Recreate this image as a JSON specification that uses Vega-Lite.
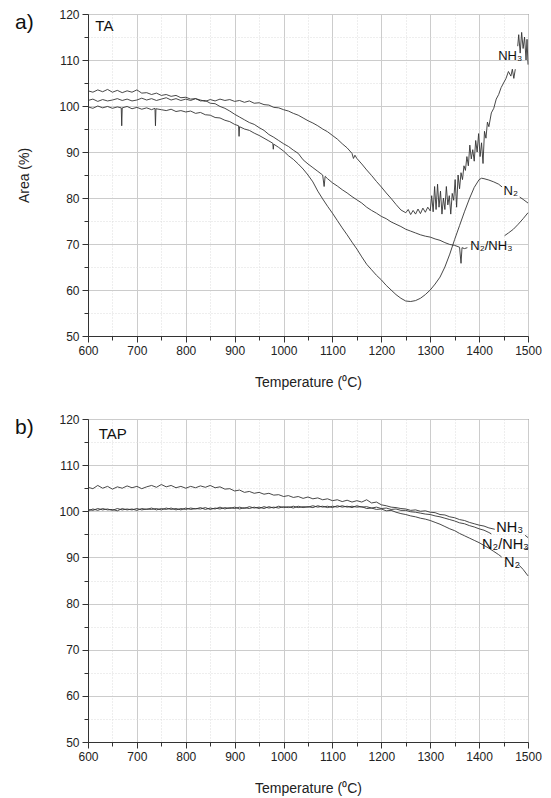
{
"$schema": "https://vega.github.io/schema/vega-lite/v6.json",
"autosize": {"type": "pad"},
"padding": {"left": 14, "top": 7, "right": 5, "bottom": 5},
"bounds": "flush",
"spacing": 83,
"config": {
  "font": "Liberation Sans",
  "view": {"stroke": "#444444", "strokeWidth": 1},
  "axis": {"labelFont": "Liberation Sans", "titleFont": "Liberation Sans", "labelFontSize": 12, "titleFontSize": 14, "titleFontWeight": "normal", "labelColor": "#222222", "titleColor": "#222222", "domainColor": "#333333", "tickColor": "#333333"},
  "title": {"font": "Liberation Sans", "fontWeight": "normal", "color": "#111111"}
},
"datasets": {
"a": [
{"s":"NH3","T":600,"V":101.2},{"s":"NH3","T":610,"V":101.5},{"s":"NH3","T":620,"V":101.0},{"s":"NH3","T":630,"V":101.4},{"s":"NH3","T":640,"V":101.1},{"s":"NH3","T":650,"V":101.3},{"s":"NH3","T":660,"V":101.6},{"s":"NH3","T":670,"V":101.2},{"s":"NH3","T":680,"V":101.5},{"s":"NH3","T":690,"V":101.1},{"s":"NH3","T":700,"V":101.3},{"s":"NH3","T":710,"V":101.7},{"s":"NH3","T":720,"V":101.3},{"s":"NH3","T":730,"V":101.6},{"s":"NH3","T":740,"V":101.2},{"s":"NH3","T":750,"V":101.5},{"s":"NH3","T":760,"V":101.8},{"s":"NH3","T":770,"V":101.3},{"s":"NH3","T":780,"V":101.6},{"s":"NH3","T":790,"V":101.2},{"s":"NH3","T":800,"V":101.5},{"s":"NH3","T":810,"V":101.2},{"s":"NH3","T":820,"V":101.6},{"s":"NH3","T":830,"V":101.3},{"s":"NH3","T":840,"V":101.0},{"s":"NH3","T":850,"V":101.4},{"s":"NH3","T":860,"V":101.1},{"s":"NH3","T":870,"V":101.5},{"s":"NH3","T":880,"V":101.2},{"s":"NH3","T":890,"V":101.4},{"s":"NH3","T":900,"V":101.0},{"s":"NH3","T":910,"V":101.2},{"s":"NH3","T":920,"V":100.8},{"s":"NH3","T":930,"V":101.1},{"s":"NH3","T":940,"V":100.6},{"s":"NH3","T":950,"V":100.7},{"s":"NH3","T":960,"V":100.3},{"s":"NH3","T":970,"V":100.2},{"s":"NH3","T":980,"V":99.7},{"s":"NH3","T":990,"V":99.6},{"s":"NH3","T":1000,"V":99.2},{"s":"NH3","T":1010,"V":98.9},{"s":"NH3","T":1020,"V":98.4},{"s":"NH3","T":1030,"V":98.0},{"s":"NH3","T":1040,"V":97.4},{"s":"NH3","T":1050,"V":96.8},{"s":"NH3","T":1060,"V":96.3},{"s":"NH3","T":1070,"V":95.7},{"s":"NH3","T":1080,"V":95.0},{"s":"NH3","T":1090,"V":94.4},{"s":"NH3","T":1100,"V":93.6},{"s":"NH3","T":1110,"V":92.8},{"s":"NH3","T":1120,"V":91.8},{"s":"NH3","T":1130,"V":90.9},{"s":"NH3","T":1140,"V":89.7},{"s":"NH3","T":1143,"V":88.6},{"s":"NH3","T":1146,"V":89.3},{"s":"NH3","T":1150,"V":88.6},{"s":"NH3","T":1160,"V":87.4},{"s":"NH3","T":1170,"V":86.1},{"s":"NH3","T":1180,"V":84.9},{"s":"NH3","T":1190,"V":83.6},{"s":"NH3","T":1200,"V":82.4},{"s":"NH3","T":1210,"V":81.1},{"s":"NH3","T":1220,"V":79.9},{"s":"NH3","T":1230,"V":78.6},{"s":"NH3","T":1240,"V":77.4},{"s":"NH3","T":1250,"V":76.8},{"s":"NH3","T":1255,"V":77.5},{"s":"NH3","T":1260,"V":76.4},{"s":"NH3","T":1265,"V":77.3},{"s":"NH3","T":1270,"V":76.5},{"s":"NH3","T":1275,"V":77.6},{"s":"NH3","T":1280,"V":76.6},{"s":"NH3","T":1285,"V":77.8},{"s":"NH3","T":1290,"V":76.9},{"s":"NH3","T":1295,"V":78.0},{"s":"NH3","T":1300,"V":77.2},{"s":"NH3","T":1303,"V":80.5},{"s":"NH3","T":1306,"V":77.0},{"s":"NH3","T":1309,"V":82.5},{"s":"NH3","T":1312,"V":77.5},{"s":"NH3","T":1315,"V":83.0},{"s":"NH3","T":1318,"V":78.0},{"s":"NH3","T":1321,"V":81.5},{"s":"NH3","T":1324,"V":76.5},{"s":"NH3","T":1327,"V":80.0},{"s":"NH3","T":1330,"V":77.5},{"s":"NH3","T":1333,"V":82.5},{"s":"NH3","T":1336,"V":78.5},{"s":"NH3","T":1339,"V":80.5},{"s":"NH3","T":1342,"V":76.5},{"s":"NH3","T":1345,"V":81.0},{"s":"NH3","T":1348,"V":79.5},{"s":"NH3","T":1351,"V":84.0},{"s":"NH3","T":1354,"V":78.0},{"s":"NH3","T":1357,"V":85.0},{"s":"NH3","T":1360,"V":82.0},{"s":"NH3","T":1363,"V":85.5},{"s":"NH3","T":1366,"V":84.0},{"s":"NH3","T":1369,"V":87.0},{"s":"NH3","T":1372,"V":86.0},{"s":"NH3","T":1375,"V":89.0},{"s":"NH3","T":1378,"V":87.0},{"s":"NH3","T":1381,"V":91.5},{"s":"NH3","T":1384,"V":88.5},{"s":"NH3","T":1387,"V":90.5},{"s":"NH3","T":1390,"V":88.0},{"s":"NH3","T":1393,"V":92.5},{"s":"NH3","T":1396,"V":90.0},{"s":"NH3","T":1399,"V":94.0},{"s":"NH3","T":1402,"V":89.0},{"s":"NH3","T":1405,"V":92.0},{"s":"NH3","T":1408,"V":87.5},{"s":"NH3","T":1411,"V":94.5},{"s":"NH3","T":1414,"V":93.0},{"s":"NH3","T":1417,"V":96.5},{"s":"NH3","T":1420,"V":95.5},{"s":"NH3","T":1425,"V":98.5},{"s":"NH3","T":1430,"V":99.5},{"s":"NH3","T":1435,"V":101.5},{"s":"NH3","T":1440,"V":102.5},{"s":"NH3","T":1445,"V":104.0},{"s":"NH3","T":1450,"V":105.0},{"s":"NH3","T":1455,"V":106.0},{"s":"NH3","T":1460,"V":107.5},{"s":"NH3","T":1465,"V":106.5},{"s":"NH3","T":1468,"V":108.0},{"s":"NH3","T":1471,"V":106.0},{"s":"NH3","T":1474,"V":108.0},
{"s":"NH3-2","T":1479,"V":113.0},{"s":"NH3-2","T":1481,"V":115.5},{"s":"NH3-2","T":1484,"V":111.5},{"s":"NH3-2","T":1487,"V":116.0},{"s":"NH3-2","T":1490,"V":112.5},{"s":"NH3-2","T":1493,"V":115.0},{"s":"NH3-2","T":1496,"V":110.0},{"s":"NH3-2","T":1498,"V":114.5},{"s":"NH3-2","T":1500,"V":109.0},
{"s":"N2NH3","T":600,"V":103.3},{"s":"N2NH3","T":610,"V":103.0},{"s":"N2NH3","T":620,"V":103.5},{"s":"N2NH3","T":630,"V":103.1},{"s":"N2NH3","T":640,"V":103.6},{"s":"N2NH3","T":650,"V":103.0},{"s":"N2NH3","T":660,"V":103.4},{"s":"N2NH3","T":670,"V":102.9},{"s":"N2NH3","T":680,"V":103.3},{"s":"N2NH3","T":690,"V":103.0},{"s":"N2NH3","T":700,"V":103.5},{"s":"N2NH3","T":710,"V":102.8},{"s":"N2NH3","T":720,"V":102.9},{"s":"N2NH3","T":730,"V":102.5},{"s":"N2NH3","T":740,"V":102.8},{"s":"N2NH3","T":750,"V":102.3},{"s":"N2NH3","T":760,"V":102.5},{"s":"N2NH3","T":770,"V":102.1},{"s":"N2NH3","T":780,"V":102.3},{"s":"N2NH3","T":790,"V":101.8},{"s":"N2NH3","T":800,"V":101.9},{"s":"N2NH3","T":810,"V":101.5},{"s":"N2NH3","T":820,"V":101.6},{"s":"N2NH3","T":830,"V":101.1},{"s":"N2NH3","T":840,"V":101.2},{"s":"N2NH3","T":850,"V":100.6},{"s":"N2NH3","T":860,"V":100.5},{"s":"N2NH3","T":870,"V":99.9},{"s":"N2NH3","T":880,"V":99.5},{"s":"N2NH3","T":890,"V":98.9},{"s":"N2NH3","T":900,"V":98.2},{"s":"N2NH3","T":910,"V":97.6},{"s":"N2NH3","T":920,"V":97.0},{"s":"N2NH3","T":930,"V":96.4},{"s":"N2NH3","T":940,"V":96.0},{"s":"N2NH3","T":950,"V":95.3},{"s":"N2NH3","T":960,"V":94.7},{"s":"N2NH3","T":970,"V":93.8},{"s":"N2NH3","T":980,"V":93.2},{"s":"N2NH3","T":990,"V":92.5},{"s":"N2NH3","T":1000,"V":91.8},{"s":"N2NH3","T":1010,"V":91.2},{"s":"N2NH3","T":1020,"V":90.4},{"s":"N2NH3","T":1030,"V":89.7},{"s":"N2NH3","T":1040,"V":88.3},{"s":"N2NH3","T":1050,"V":87.4},{"s":"N2NH3","T":1060,"V":86.6},{"s":"N2NH3","T":1070,"V":85.8},{"s":"N2NH3","T":1080,"V":85.0},{"s":"N2NH3","T":1083,"V":82.5},{"s":"N2NH3","T":1085,"V":84.7},{"s":"N2NH3","T":1090,"V":84.2},{"s":"N2NH3","T":1100,"V":83.3},{"s":"N2NH3","T":1110,"V":82.6},{"s":"N2NH3","T":1120,"V":81.8},{"s":"N2NH3","T":1130,"V":81.1},{"s":"N2NH3","T":1140,"V":80.3},{"s":"N2NH3","T":1150,"V":79.6},{"s":"N2NH3","T":1160,"V":78.9},{"s":"N2NH3","T":1170,"V":78.0},{"s":"N2NH3","T":1180,"V":77.3},{"s":"N2NH3","T":1190,"V":76.7},{"s":"N2NH3","T":1200,"V":76.0},{"s":"N2NH3","T":1210,"V":75.5},{"s":"N2NH3","T":1220,"V":74.8},{"s":"N2NH3","T":1230,"V":74.3},{"s":"N2NH3","T":1240,"V":73.8},{"s":"N2NH3","T":1250,"V":73.2},{"s":"N2NH3","T":1260,"V":72.8},{"s":"N2NH3","T":1270,"V":72.4},{"s":"N2NH3","T":1280,"V":72.0},{"s":"N2NH3","T":1290,"V":71.7},{"s":"N2NH3","T":1300,"V":71.5},{"s":"N2NH3","T":1310,"V":71.1},{"s":"N2NH3","T":1320,"V":70.8},{"s":"N2NH3","T":1330,"V":70.3},{"s":"N2NH3","T":1340,"V":69.9},{"s":"N2NH3","T":1350,"V":69.7},{"s":"N2NH3","T":1360,"V":69.3},{"s":"N2NH3","T":1363,"V":65.8},{"s":"N2NH3","T":1365,"V":69.2},{"s":"N2NH3","T":1370,"V":69.0},{"s":"N2NH3","T":1376,"V":69.2},
{"s":"N2NH3-2","T":1452,"V":71.8},{"s":"N2NH3-2","T":1460,"V":72.4},{"s":"N2NH3-2","T":1470,"V":73.2},{"s":"N2NH3-2","T":1480,"V":74.3},{"s":"N2NH3-2","T":1490,"V":75.5},{"s":"N2NH3-2","T":1500,"V":76.8},
{"s":"N2","T":600,"V":99.8},{"s":"N2","T":610,"V":99.5},{"s":"N2","T":620,"V":100.0},{"s":"N2","T":630,"V":99.6},{"s":"N2","T":640,"V":99.9},{"s":"N2","T":650,"V":99.5},{"s":"N2","T":660,"V":99.8},{"s":"N2","T":668,"V":99.6},{"s":"N2","T":669,"V":95.7},{"s":"N2","T":670,"V":99.6},{"s":"N2","T":680,"V":99.9},{"s":"N2","T":690,"V":99.4},{"s":"N2","T":700,"V":99.7},{"s":"N2","T":710,"V":99.3},{"s":"N2","T":720,"V":99.6},{"s":"N2","T":730,"V":99.2},{"s":"N2","T":737,"V":99.5},{"s":"N2","T":738,"V":95.7},{"s":"N2","T":739,"V":99.4},{"s":"N2","T":750,"V":99.2},{"s":"N2","T":760,"V":99.0},{"s":"N2","T":770,"V":99.3},{"s":"N2","T":780,"V":98.8},{"s":"N2","T":790,"V":99.0},{"s":"N2","T":800,"V":98.7},{"s":"N2","T":810,"V":98.9},{"s":"N2","T":820,"V":98.4},{"s":"N2","T":830,"V":98.6},{"s":"N2","T":840,"V":98.1},{"s":"N2","T":850,"V":98.0},{"s":"N2","T":860,"V":97.5},{"s":"N2","T":870,"V":97.4},{"s":"N2","T":880,"V":96.9},{"s":"N2","T":890,"V":96.6},{"s":"N2","T":900,"V":96.0},{"s":"N2","T":908,"V":95.7},{"s":"N2","T":909,"V":93.4},{"s":"N2","T":910,"V":95.5},{"s":"N2","T":920,"V":95.0},{"s":"N2","T":930,"V":94.7},{"s":"N2","T":940,"V":94.1},{"s":"N2","T":950,"V":93.6},{"s":"N2","T":960,"V":93.0},{"s":"N2","T":970,"V":92.4},{"s":"N2","T":978,"V":91.9},{"s":"N2","T":979,"V":90.6},{"s":"N2","T":980,"V":91.7},{"s":"N2","T":990,"V":91.0},{"s":"N2","T":1000,"V":90.2},{"s":"N2","T":1010,"V":89.2},{"s":"N2","T":1020,"V":88.4},{"s":"N2","T":1030,"V":87.4},{"s":"N2","T":1040,"V":86.3},{"s":"N2","T":1050,"V":85.0},{"s":"N2","T":1060,"V":83.5},{"s":"N2","T":1070,"V":81.5},{"s":"N2","T":1080,"V":79.8},{"s":"N2","T":1090,"V":78.2},{"s":"N2","T":1100,"V":76.7},{"s":"N2","T":1110,"V":75.1},{"s":"N2","T":1120,"V":73.5},{"s":"N2","T":1130,"V":72.0},{"s":"N2","T":1140,"V":70.4},{"s":"N2","T":1150,"V":68.9},{"s":"N2","T":1160,"V":67.2},{"s":"N2","T":1170,"V":65.6},{"s":"N2","T":1180,"V":64.4},{"s":"N2","T":1190,"V":63.2},{"s":"N2","T":1200,"V":62.2},{"s":"N2","T":1210,"V":61.0},{"s":"N2","T":1220,"V":60.0},{"s":"N2","T":1230,"V":59.0},{"s":"N2","T":1240,"V":58.2},{"s":"N2","T":1250,"V":57.6},{"s":"N2","T":1260,"V":57.5},{"s":"N2","T":1270,"V":57.7},{"s":"N2","T":1280,"V":58.2},{"s":"N2","T":1290,"V":59.0},{"s":"N2","T":1300,"V":60.0},{"s":"N2","T":1310,"V":61.3},{"s":"N2","T":1320,"V":62.8},{"s":"N2","T":1330,"V":65.0},{"s":"N2","T":1340,"V":67.8},{"s":"N2","T":1350,"V":71.0},{"s":"N2","T":1360,"V":74.0},{"s":"N2","T":1370,"V":77.0},{"s":"N2","T":1380,"V":79.8},{"s":"N2","T":1390,"V":82.3},{"s":"N2","T":1400,"V":84.0},{"s":"N2","T":1405,"V":84.3},{"s":"N2","T":1410,"V":84.2},{"s":"N2","T":1420,"V":83.9},{"s":"N2","T":1430,"V":83.5},{"s":"N2","T":1440,"V":83.0},{"s":"N2","T":1447,"V":82.4},
{"s":"N2-2","T":1483,"V":80.2},{"s":"N2-2","T":1490,"V":79.7},{"s":"N2-2","T":1500,"V":78.9}
],
"b": [
{"s":"NH3","T":600,"V":105.2},{"s":"NH3","T":610,"V":104.9},{"s":"NH3","T":620,"V":105.6},{"s":"NH3","T":630,"V":105.0},{"s":"NH3","T":640,"V":105.4},{"s":"NH3","T":650,"V":104.8},{"s":"NH3","T":660,"V":105.3},{"s":"NH3","T":670,"V":105.0},{"s":"NH3","T":680,"V":105.5},{"s":"NH3","T":690,"V":105.1},{"s":"NH3","T":700,"V":105.4},{"s":"NH3","T":710,"V":104.9},{"s":"NH3","T":720,"V":105.3},{"s":"NH3","T":730,"V":105.6},{"s":"NH3","T":740,"V":105.2},{"s":"NH3","T":750,"V":105.8},{"s":"NH3","T":760,"V":105.3},{"s":"NH3","T":770,"V":105.6},{"s":"NH3","T":780,"V":105.1},{"s":"NH3","T":790,"V":105.4},{"s":"NH3","T":800,"V":105.0},{"s":"NH3","T":810,"V":105.4},{"s":"NH3","T":820,"V":105.1},{"s":"NH3","T":830,"V":105.5},{"s":"NH3","T":840,"V":105.2},{"s":"NH3","T":850,"V":105.6},{"s":"NH3","T":860,"V":105.1},{"s":"NH3","T":870,"V":105.3},{"s":"NH3","T":880,"V":104.8},{"s":"NH3","T":890,"V":104.9},{"s":"NH3","T":900,"V":104.4},{"s":"NH3","T":910,"V":104.6},{"s":"NH3","T":920,"V":104.1},{"s":"NH3","T":930,"V":104.3},{"s":"NH3","T":940,"V":103.9},{"s":"NH3","T":950,"V":104.1},{"s":"NH3","T":960,"V":103.7},{"s":"NH3","T":970,"V":103.9},{"s":"NH3","T":980,"V":103.5},{"s":"NH3","T":990,"V":103.6},{"s":"NH3","T":1000,"V":103.2},{"s":"NH3","T":1010,"V":103.4},{"s":"NH3","T":1020,"V":103.0},{"s":"NH3","T":1030,"V":103.2},{"s":"NH3","T":1040,"V":102.8},{"s":"NH3","T":1050,"V":103.1},{"s":"NH3","T":1060,"V":102.7},{"s":"NH3","T":1070,"V":102.9},{"s":"NH3","T":1080,"V":102.5},{"s":"NH3","T":1090,"V":102.7},{"s":"NH3","T":1100,"V":102.3},{"s":"NH3","T":1110,"V":102.5},{"s":"NH3","T":1120,"V":102.1},{"s":"NH3","T":1130,"V":102.4},{"s":"NH3","T":1140,"V":102.0},{"s":"NH3","T":1150,"V":102.3},{"s":"NH3","T":1160,"V":102.0},{"s":"NH3","T":1170,"V":102.5},{"s":"NH3","T":1180,"V":101.8},{"s":"NH3","T":1190,"V":102.0},{"s":"NH3","T":1200,"V":101.4},{"s":"NH3","T":1210,"V":101.2},{"s":"NH3","T":1220,"V":100.9},{"s":"NH3","T":1230,"V":100.8},{"s":"NH3","T":1240,"V":100.6},{"s":"NH3","T":1250,"V":100.5},{"s":"NH3","T":1260,"V":100.2},{"s":"NH3","T":1270,"V":100.3},{"s":"NH3","T":1280,"V":100.0},{"s":"NH3","T":1290,"V":100.1},{"s":"NH3","T":1300,"V":99.8},{"s":"NH3","T":1310,"V":99.7},{"s":"NH3","T":1320,"V":99.3},{"s":"NH3","T":1330,"V":99.2},{"s":"NH3","T":1340,"V":98.8},{"s":"NH3","T":1350,"V":98.6},{"s":"NH3","T":1360,"V":98.2},{"s":"NH3","T":1370,"V":98.0},{"s":"NH3","T":1380,"V":97.6},{"s":"NH3","T":1390,"V":97.3},{"s":"NH3","T":1400,"V":97.0},{"s":"NH3","T":1410,"V":96.8},{"s":"NH3","T":1420,"V":96.4},{"s":"NH3","T":1432,"V":96.1},
{"s":"NH3-2","T":1494,"V":94.8},{"s":"NH3-2","T":1500,"V":94.3},
{"s":"N2NH3","T":600,"V":100.1},{"s":"N2NH3","T":610,"V":100.5},{"s":"N2NH3","T":620,"V":100.2},{"s":"N2NH3","T":630,"V":100.6},{"s":"N2NH3","T":640,"V":100.3},{"s":"N2NH3","T":650,"V":100.4},{"s":"N2NH3","T":660,"V":100.1},{"s":"N2NH3","T":670,"V":100.6},{"s":"N2NH3","T":680,"V":100.3},{"s":"N2NH3","T":690,"V":100.5},{"s":"N2NH3","T":700,"V":100.2},{"s":"N2NH3","T":710,"V":100.6},{"s":"N2NH3","T":720,"V":100.4},{"s":"N2NH3","T":730,"V":100.7},{"s":"N2NH3","T":740,"V":100.3},{"s":"N2NH3","T":750,"V":100.6},{"s":"N2NH3","T":760,"V":100.4},{"s":"N2NH3","T":770,"V":100.7},{"s":"N2NH3","T":780,"V":100.3},{"s":"N2NH3","T":790,"V":100.6},{"s":"N2NH3","T":800,"V":100.4},{"s":"N2NH3","T":810,"V":100.7},{"s":"N2NH3","T":820,"V":100.5},{"s":"N2NH3","T":830,"V":100.8},{"s":"N2NH3","T":840,"V":100.4},{"s":"N2NH3","T":850,"V":100.7},{"s":"N2NH3","T":860,"V":100.5},{"s":"N2NH3","T":870,"V":100.9},{"s":"N2NH3","T":880,"V":100.5},{"s":"N2NH3","T":890,"V":100.8},{"s":"N2NH3","T":900,"V":100.6},{"s":"N2NH3","T":910,"V":100.9},{"s":"N2NH3","T":920,"V":100.6},{"s":"N2NH3","T":930,"V":101.0},{"s":"N2NH3","T":940,"V":100.7},{"s":"N2NH3","T":950,"V":100.9},{"s":"N2NH3","T":960,"V":100.6},{"s":"N2NH3","T":970,"V":101.0},{"s":"N2NH3","T":980,"V":100.7},{"s":"N2NH3","T":990,"V":101.1},{"s":"N2NH3","T":1000,"V":100.8},{"s":"N2NH3","T":1010,"V":101.0},{"s":"N2NH3","T":1020,"V":100.7},{"s":"N2NH3","T":1030,"V":101.1},{"s":"N2NH3","T":1040,"V":100.8},{"s":"N2NH3","T":1050,"V":101.0},{"s":"N2NH3","T":1060,"V":100.8},{"s":"N2NH3","T":1070,"V":101.2},{"s":"N2NH3","T":1080,"V":100.9},{"s":"N2NH3","T":1090,"V":101.1},{"s":"N2NH3","T":1100,"V":100.8},{"s":"N2NH3","T":1110,"V":101.2},{"s":"N2NH3","T":1120,"V":100.9},{"s":"N2NH3","T":1130,"V":101.1},{"s":"N2NH3","T":1140,"V":100.8},{"s":"N2NH3","T":1150,"V":101.2},{"s":"N2NH3","T":1160,"V":100.9},{"s":"N2NH3","T":1170,"V":101.0},{"s":"N2NH3","T":1180,"V":100.7},{"s":"N2NH3","T":1190,"V":100.9},{"s":"N2NH3","T":1200,"V":100.6},{"s":"N2NH3","T":1210,"V":100.7},{"s":"N2NH3","T":1220,"V":100.4},{"s":"N2NH3","T":1230,"V":100.5},{"s":"N2NH3","T":1240,"V":100.2},{"s":"N2NH3","T":1250,"V":100.2},{"s":"N2NH3","T":1260,"V":99.9},{"s":"N2NH3","T":1270,"V":99.8},{"s":"N2NH3","T":1280,"V":99.6},{"s":"N2NH3","T":1290,"V":99.4},{"s":"N2NH3","T":1300,"V":99.3},{"s":"N2NH3","T":1310,"V":99.0},{"s":"N2NH3","T":1320,"V":98.8},{"s":"N2NH3","T":1330,"V":98.5},{"s":"N2NH3","T":1340,"V":98.2},{"s":"N2NH3","T":1350,"V":97.9},{"s":"N2NH3","T":1360,"V":97.5},{"s":"N2NH3","T":1370,"V":97.3},{"s":"N2NH3","T":1380,"V":96.9},{"s":"N2NH3","T":1390,"V":96.6},{"s":"N2NH3","T":1400,"V":96.2},{"s":"N2NH3","T":1410,"V":95.9},{"s":"N2NH3","T":1420,"V":95.4},{"s":"N2NH3","T":1425,"V":95.1},
{"s":"N2NH3-2","T":1494,"V":92.1},{"s":"N2NH3-2","T":1500,"V":91.7},
{"s":"N2","T":600,"V":100.4},{"s":"N2","T":610,"V":100.2},{"s":"N2","T":620,"V":100.6},{"s":"N2","T":630,"V":100.3},{"s":"N2","T":640,"V":100.5},{"s":"N2","T":650,"V":100.2},{"s":"N2","T":660,"V":100.6},{"s":"N2","T":670,"V":100.3},{"s":"N2","T":680,"V":100.5},{"s":"N2","T":690,"V":100.3},{"s":"N2","T":700,"V":100.6},{"s":"N2","T":710,"V":100.3},{"s":"N2","T":720,"V":100.5},{"s":"N2","T":730,"V":100.4},{"s":"N2","T":740,"V":100.6},{"s":"N2","T":750,"V":100.3},{"s":"N2","T":760,"V":100.7},{"s":"N2","T":770,"V":100.4},{"s":"N2","T":780,"V":100.6},{"s":"N2","T":790,"V":100.3},{"s":"N2","T":800,"V":100.7},{"s":"N2","T":810,"V":100.4},{"s":"N2","T":820,"V":100.6},{"s":"N2","T":830,"V":100.5},{"s":"N2","T":840,"V":100.8},{"s":"N2","T":850,"V":100.4},{"s":"N2","T":860,"V":100.7},{"s":"N2","T":870,"V":100.5},{"s":"N2","T":880,"V":100.8},{"s":"N2","T":890,"V":100.6},{"s":"N2","T":900,"V":100.9},{"s":"N2","T":910,"V":100.5},{"s":"N2","T":920,"V":100.8},{"s":"N2","T":930,"V":100.6},{"s":"N2","T":940,"V":100.9},{"s":"N2","T":950,"V":100.6},{"s":"N2","T":960,"V":101.0},{"s":"N2","T":970,"V":100.7},{"s":"N2","T":980,"V":100.9},{"s":"N2","T":990,"V":100.7},{"s":"N2","T":1000,"V":101.0},{"s":"N2","T":1010,"V":100.8},{"s":"N2","T":1020,"V":101.1},{"s":"N2","T":1030,"V":100.8},{"s":"N2","T":1040,"V":101.0},{"s":"N2","T":1050,"V":100.9},{"s":"N2","T":1060,"V":101.2},{"s":"N2","T":1070,"V":100.9},{"s":"N2","T":1080,"V":101.1},{"s":"N2","T":1090,"V":100.8},{"s":"N2","T":1100,"V":101.1},{"s":"N2","T":1110,"V":100.9},{"s":"N2","T":1120,"V":101.2},{"s":"N2","T":1130,"V":100.9},{"s":"N2","T":1140,"V":101.1},{"s":"N2","T":1150,"V":100.9},{"s":"N2","T":1160,"V":101.0},{"s":"N2","T":1170,"V":100.6},{"s":"N2","T":1180,"V":100.7},{"s":"N2","T":1190,"V":100.4},{"s":"N2","T":1200,"V":100.5},{"s":"N2","T":1210,"V":100.1},{"s":"N2","T":1220,"V":100.2},{"s":"N2","T":1230,"V":99.8},{"s":"N2","T":1240,"V":99.5},{"s":"N2","T":1250,"V":99.3},{"s":"N2","T":1260,"V":99.0},{"s":"N2","T":1270,"V":98.8},{"s":"N2","T":1280,"V":98.5},{"s":"N2","T":1290,"V":98.3},{"s":"N2","T":1300,"V":98.0},{"s":"N2","T":1310,"V":97.6},{"s":"N2","T":1320,"V":97.2},{"s":"N2","T":1330,"V":96.7},{"s":"N2","T":1340,"V":96.2},{"s":"N2","T":1350,"V":95.8},{"s":"N2","T":1360,"V":95.2},{"s":"N2","T":1370,"V":94.7},{"s":"N2","T":1380,"V":94.2},{"s":"N2","T":1390,"V":93.7},{"s":"N2","T":1400,"V":93.2},{"s":"N2","T":1410,"V":92.6},{"s":"N2","T":1420,"V":92.0},{"s":"N2","T":1430,"V":91.3},{"s":"N2","T":1440,"V":90.6},{"s":"N2","T":1446,"V":90.1},
{"s":"N2-2","T":1482,"V":88.3},{"s":"N2-2","T":1490,"V":87.4},{"s":"N2-2","T":1500,"V":86.0}
],
"la": [{"T":1439,"V":110.9,"label":"NH₃"},{"T":1450,"V":81.6,"label":"N₂"},{"T":1382,"V":69.6,"label":"N₂/NH₃"}],
"ta": [{"T":615,"V":117.4,"label":"TA"}],
"lb": [{"T":1435,"V":96.4,"label":"NH₃"},{"T":1406,"V":92.7,"label":"N₂/NH₃"},{"T":1451,"V":88.7,"label":"N₂"}],
"tb": [{"T":622,"V":116.7,"label":"TAP"}]
},
"vconcat": [
{
  "width": 440, "height": 322,
  "title": {"text": "a)", "anchor": "start", "frame": "group", "orient": "top", "fontSize": 21, "baseline": "top", "offset": -19, "dx": -73, "dy": 6},
  "resolve": {"axis": {"x": "independent", "y": "independent"}},
  "layer": [
    {"data": {"name": "a"}, "mark": {"type": "line", "color": "#333333", "strokeWidth": 0.9},
     "encoding": {
       "x": {"field": "T", "type": "quantitative", "scale": {"domain": [600, 1500], "nice": false, "zero": false},
             "axis": {"values": [600,700,800,900,1000,1100,1200,1300,1400,1500], "format": "d", "title": "Temperature (⁰C)", "grid": true, "gridColor": "#cccccc", "tickSize": 6, "labelPadding": 3, "titlePadding": 19, "labelOverlap": false, "labelFlush": false}},
       "y": {"field": "V", "type": "quantitative", "scale": {"domain": [50, 120], "nice": false, "zero": false},
             "axis": {"values": [50,60,70,80,90,100,110,120], "format": "d", "title": "Area (%)", "grid": true, "gridColor": "#cccccc", "tickSize": 6, "labelPadding": 3, "titlePadding": 27, "labelOverlap": false}},
       "detail": {"field": "s"}
     }},
    {"data": {"name": "la"}, "mark": {"type": "text", "align": "left", "baseline": "middle", "fontSize": 13, "font": "Liberation Sans", "color": "#111111"},
     "encoding": {
       "x": {"field": "T", "type": "quantitative", "scale": {"domain": [600, 1500], "nice": false, "zero": false},
             "axis": {"values": [650,750,850,950,1050,1150,1250,1350,1450], "orient": "bottom", "labels": false, "domain": false, "title": null, "tickSize": 4, "grid": true, "gridColor": "#dddddd", "gridDash": [1, 2]}},
       "y": {"field": "V", "type": "quantitative", "scale": {"domain": [50, 120], "nice": false, "zero": false},
             "axis": {"values": [55,65,75,85,95,105,115], "orient": "left", "labels": false, "domain": false, "title": null, "tickSize": 4, "grid": true, "gridColor": "#dddddd", "gridDash": [1, 2]}},
       "text": {"field": "label"}
     }},
    {"data": {"name": "ta"}, "mark": {"type": "text", "align": "left", "baseline": "middle", "fontSize": 15, "font": "Liberation Sans", "color": "#111111"},
     "encoding": {
       "x": {"field": "T", "type": "quantitative", "scale": {"domain": [600, 1500], "nice": false, "zero": false}, "axis": null},
       "y": {"field": "V", "type": "quantitative", "scale": {"domain": [50, 120], "nice": false, "zero": false}, "axis": null},
       "text": {"field": "label"}
     }}
  ]
},
{
  "width": 440, "height": 323,
  "title": {"text": "b)", "anchor": "start", "frame": "group", "orient": "top", "fontSize": 21, "baseline": "top", "offset": -19, "dx": -73, "dy": 6},
  "resolve": {"axis": {"x": "independent", "y": "independent"}},
  "layer": [
    {"data": {"name": "b"}, "mark": {"type": "line", "color": "#333333", "strokeWidth": 0.9},
     "encoding": {
       "x": {"field": "T", "type": "quantitative", "scale": {"domain": [600, 1500], "nice": false, "zero": false},
             "axis": {"values": [600,700,800,900,1000,1100,1200,1300,1400,1500], "format": "d", "title": "Temperature (⁰C)", "grid": true, "gridColor": "#cccccc", "tickSize": 6, "labelPadding": 3, "titlePadding": 19, "labelOverlap": false, "labelFlush": false}},
       "y": {"field": "V", "type": "quantitative", "scale": {"domain": [50, 120], "nice": false, "zero": false},
             "axis": {"values": [50,60,70,80,90,100,110,120], "format": "d", "title": null, "grid": true, "gridColor": "#cccccc", "tickSize": 6, "labelPadding": 3, "labelOverlap": false}},
       "detail": {"field": "s"}
     }},
    {"data": {"name": "lb"}, "mark": {"type": "text", "align": "left", "baseline": "middle", "fontSize": 14.5, "font": "Liberation Sans", "color": "#111111"},
     "encoding": {
       "x": {"field": "T", "type": "quantitative", "scale": {"domain": [600, 1500], "nice": false, "zero": false},
             "axis": {"values": [650,750,850,950,1050,1150,1250,1350,1450], "orient": "bottom", "labels": false, "domain": false, "title": null, "tickSize": 4, "grid": true, "gridColor": "#dddddd", "gridDash": [1, 2]}},
       "y": {"field": "V", "type": "quantitative", "scale": {"domain": [50, 120], "nice": false, "zero": false},
             "axis": {"values": [55,65,75,85,95,105,115], "orient": "left", "labels": false, "domain": false, "title": null, "tickSize": 4, "grid": true, "gridColor": "#dddddd", "gridDash": [1, 2]}},
       "text": {"field": "label"}
     }},
    {"data": {"name": "tb"}, "mark": {"type": "text", "align": "left", "baseline": "middle", "fontSize": 15, "font": "Liberation Sans", "color": "#111111"},
     "encoding": {
       "x": {"field": "T", "type": "quantitative", "scale": {"domain": [600, 1500], "nice": false, "zero": false}, "axis": null},
       "y": {"field": "V", "type": "quantitative", "scale": {"domain": [50, 120], "nice": false, "zero": false}, "axis": null},
       "text": {"field": "label"}
     }}
  ]
}
]
}
